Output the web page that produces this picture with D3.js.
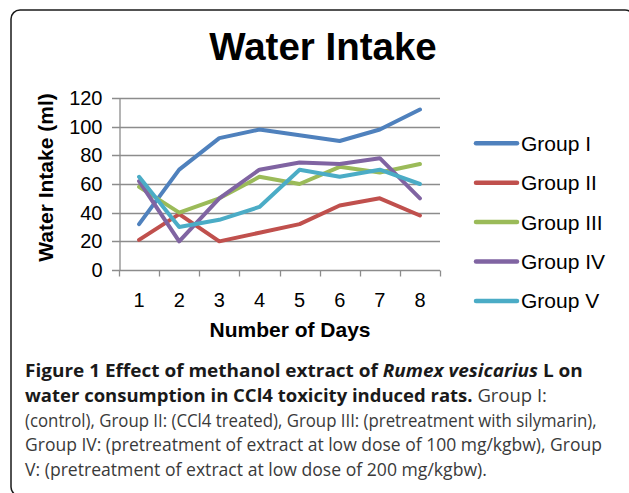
<!DOCTYPE html>
<html>
<head>
<meta charset="utf-8">
<script src="https://cdn.jsdelivr.net/npm/d3@7"></script>
<style>
  body { margin: 0; background: #fff; }
  svg { display: block; }
</style>
</head>
<body>
<div class="svgContainer"></div>
<script>
// Statics
var DAYS = ["1", "2", "3", "4", "5", "6", "7", "8"];
var GROUPS = ["Group I", "Group II", "Group III", "Group IV", "Group V"];
var COLORS = ["#4F81BD", "#C0504D", "#9BBB59", "#8064A2", "#4BACC6"];
var Y_TICKS = [0, 20, 40, 60, 80, 100, 120];

var groupI   = [32, 70, 92, 98, 94, 90, 98, 112];
var groupII  = [21, 39, 20, 26, 32, 45, 50, 38];
var groupIII = [58, 40, 50, 65, 60, 72, 68, 74];
var groupIV  = [62, 20, 50, 70, 75, 74, 78, 50];
var groupV   = [65, 30, 35, 44, 70, 65, 70, 60];
var SERIES = [groupI, groupII, groupIII, groupIV, groupV];

// caption lines, each a list of [text, style]
var CAPTION = [
    [["Figure 1 Effect of methanol extract of ", "b"], ["Rumex vesicarius", "bi"], [" L on", "b"]],
    [["water consumption in CCl4 toxicity induced rats.", "b"], [" Group I:", "r"]],
    [["(control), Group II: (CCl4 treated), Group III: (pretreatment with silymarin),", "r"]],
    [["Group IV: (pretreatment of extract at low dose of 100 mg/kgbw), Group", "r"]],
    [["V: (pretreatment of extract at low dose of 200 mg/kgbw).", "r"]]
];
var CAPTION_END = [583, 547, 597, 602, 487];
// End statics

var W = 629, H = 493;
var margin = {left: 119, right: 189, top: 98, bottom: 223};

var svg = d3.select(".svgContainer").append("svg")
    .attr("width", W)
    .attr("height", H);

// outer frame (right and bottom edges run off the picture)
svg.append("rect")
    .attr("x", 11).attr("y", 10)
    .attr("width", 623).attr("height", 486)
    .attr("rx", 9)
    .attr("fill", "none")
    .attr("stroke", "#1a1a1a")
    .attr("stroke-width", 1.5);

var x = d3.scaleBand()
    .domain(DAYS)
    .range([margin.left, W - margin.right]);

var y = d3.scaleLinear()
    .domain([0, 120])
    .range([H - margin.bottom, margin.top]);

var FONT = "Liberation Sans, Arial, sans-serif";

// grid
svg.append("g")
    .selectAll("line")
    .data(Y_TICKS)
    .enter().append("line")
    .attr("x1", margin.left - 7)
    .attr("x2", W - margin.right)
    .attr("y1", function(d) { return Math.round(y(d)) + 0.5; })
    .attr("y2", function(d) { return Math.round(y(d)) + 0.5; })
    .attr("stroke", "#8c8c8c")
    .attr("stroke-width", 1.3);

// y axis
var yAxis = svg.append("g")
    .attr("transform", "translate(" + (margin.left + 0.5) + ",0)")
    .call(d3.axisLeft(y).tickValues(Y_TICKS).tickSize(0).tickPadding(17));
yAxis.select(".domain").attr("stroke", "#8c8c8c").attr("stroke-width", 1.3);
yAxis.selectAll("text")
    .attr("font-family", FONT)
    .attr("font-size", 20)
    .attr("fill", "#000");

// x axis
var xAxis = svg.append("g")
    .attr("transform", "translate(0," + (Math.round(y(0)) + 0.5) + ")")
    .call(d3.axisBottom(x).tickSize(0).tickPadding(22));
xAxis.select(".domain").remove();
xAxis.selectAll("text")
    .attr("font-family", FONT)
    .attr("font-size", 20)
    .attr("fill", "#000");
// tick marks between categories
xAxis.append("g")
    .selectAll("line")
    .data(d3.range(DAYS.length + 1))
    .enter().append("line")
    .attr("x1", function(i) { return Math.round(margin.left + i * x.step()) + 0.5; })
    .attr("x2", function(i) { return Math.round(margin.left + i * x.step()) + 0.5; })
    .attr("y1", 0)
    .attr("y2", 6)
    .attr("stroke", "#8c8c8c")
    .attr("stroke-width", 1.3);

// lines
var line = d3.line()
    .x(function(d, i) { return x(DAYS[i]) + x.bandwidth() / 2; })
    .y(function(d) { return y(d); });

svg.append("g")
    .selectAll("path")
    .data(SERIES)
    .enter().append("path")
    .attr("d", line)
    .attr("fill", "none")
    .attr("stroke", function(d, i) { return COLORS[i]; })
    .attr("stroke-width", 4)
    .attr("stroke-linejoin", "round")
    .attr("stroke-linecap", "round");

// titles
svg.append("text")
    .attr("x", 323).attr("y", 60)
    .attr("text-anchor", "middle")
    .attr("font-family", FONT)
    .attr("font-weight", "bold")
    .attr("font-size", 38.5)
    .text("Water Intake");

svg.append("text")
    .attr("x", 290).attr("y", 337)
    .attr("text-anchor", "middle")
    .attr("font-family", FONT)
    .attr("font-weight", "bold")
    .attr("font-size", 21)
    .text("Number of Days");

svg.append("text")
    .attr("transform", "translate(53,177.5) rotate(-90)")
    .attr("text-anchor", "middle")
    .attr("font-family", FONT)
    .attr("font-weight", "bold")
    .attr("font-size", 21)
    .text("Water Intake (ml)");

// legend
var legend = svg.append("g")
    .selectAll("g")
    .data(GROUPS)
    .enter().append("g")
    .attr("transform", function(d, i) { return "translate(474," + (143.3 + i * 39.4) + ")"; });

legend.append("line")
    .attr("x1", 2).attr("x2", 43)
    .attr("stroke", function(d, i) { return COLORS[i]; })
    .attr("stroke-width", 4.5)
    .attr("stroke-linecap", "round");

legend.append("text")
    .attr("x", 47).attr("y", 7.5)
    .attr("font-family", FONT)
    .attr("font-size", 21)
    .text(function(d) { return d; });

// caption
var CAP_FONT = "Open Sans, Noto Sans, sans-serif";
var CAP_BASE = [377, 402, 426.5, 451, 475.5];
CAPTION.forEach(function(parts, li) {
    var t = svg.append("text")
        .attr("font-family", CAP_FONT)
        .attr("font-size", 17.5);
    parts.forEach(function(p) {
        t.append("tspan")
            .attr("font-weight", p[1] == "r" ? "normal" : "bold")
            .attr("font-style", p[1] == "bi" ? "italic" : "normal")
            .attr("fill", p[1] == "r" ? "#3a3a3a" : "#1a1a1a")
            .text(p[0]);
    });
    var len = t.node().getComputedTextLength();
    var sx = (CAPTION_END[li] - 25) / len;
    t.attr("transform", "translate(25," + CAP_BASE[li] + ") scale(" + sx + ",1)");
});
</script>
</body>
</html>
